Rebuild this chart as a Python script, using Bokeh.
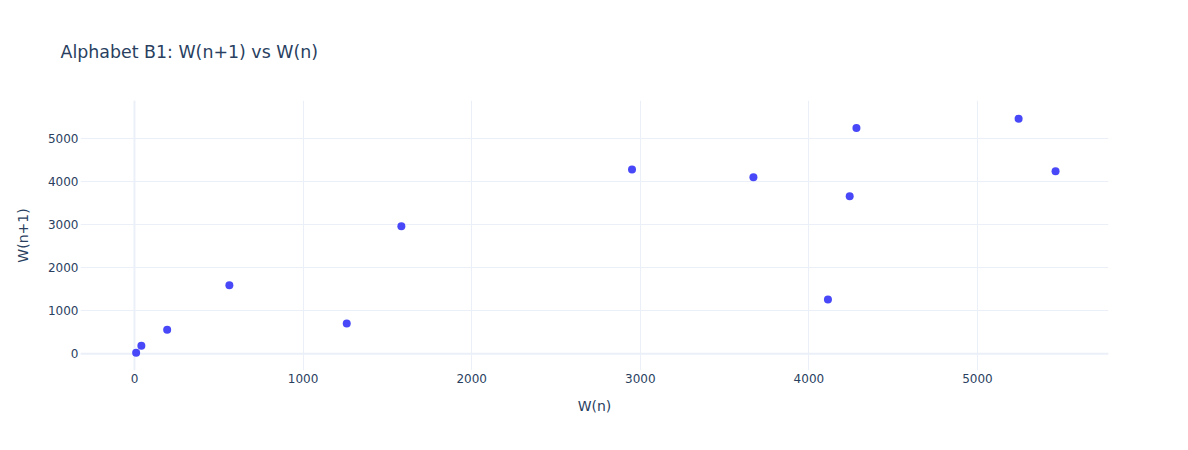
from bokeh.plotting import figure
from bokeh.models import ColumnDataSource, FixedTicker, Range1d, Span
from bokeh.embed import file_html
from bokeh.resources import INLINE

# W(n) sequence; x = W(n), y = W(n+1)
w_n = [10, 41, 194, 563, 1583, 2951, 4282, 5244, 5463, 4242, 3671, 4113, 1259]
w_n1 = [23, 186, 558, 1588, 2960, 4275, 5239, 5455, 4236, 3657, 4097, 1258, 705]

x_ticks = [0, 1000, 2000, 3000, 4000, 5000]
y_ticks = [0, 1000, 2000, 3000, 4000, 5000]

TEXT = "#2a3f5f"
GRID = "#ebf0f8"
FONT = "DejaVu Sans"

src = ColumnDataSource(data=dict(x=w_n, y=w_n1))

p = figure(width=1172, height=434, output_backend="svg", toolbar_location=None,
           x_range=Range1d(-320, 5777), y_range=Range1d(-387, 5877),
           min_border_left=80, min_border_right=64, min_border_top=100, min_border_bottom=64,
           title="Alphabet B1: W(n+1) vs W(n)")

p.background_fill_color = "white"
p.border_fill_color = "white"
p.outline_line_color = None

p.title.text_font = FONT
p.title.text_font_size = "17.4px"
p.title.text_font_style = "normal"
p.title.text_color = TEXT
p.title.align = "left"
p.title.offset = -20
p.title.standoff = 77

for ax in (p.xaxis[0], p.yaxis[0]):
    ax.axis_line_color = None
    ax.major_tick_line_color = None
    ax.minor_tick_line_color = None
    ax.major_tick_in = 0
    ax.major_tick_out = 0
    ax.minor_tick_in = 0
    ax.minor_tick_out = 0
    ax.major_label_text_font = FONT
    ax.major_label_text_font_size = "12px"
    ax.major_label_text_color = TEXT
    ax.axis_label_text_font = FONT
    ax.axis_label_text_font_size = "14px"
    ax.axis_label_text_font_style = "normal"
    ax.axis_label_text_color = TEXT

p.xaxis.ticker = FixedTicker(ticks=x_ticks)
p.yaxis.ticker = FixedTicker(ticks=y_ticks)
p.xaxis.axis_label = "W(n)"
p.yaxis.axis_label = "W(n+1)"
p.xaxis.major_label_standoff = 3
p.xaxis.axis_label_standoff = 12
p.yaxis.major_label_standoff = 2
p.yaxis.axis_label_standoff = 14

p.xgrid.grid_line_color = GRID
p.ygrid.grid_line_color = GRID
p.xgrid.grid_line_width = 1
p.ygrid.grid_line_width = 1

p.add_layout(Span(location=0, dimension="height", line_color=GRID, line_width=2, level="underlay"))
p.add_layout(Span(location=0, dimension="width", line_color=GRID, line_width=2, level="underlay"))

p.scatter("x", "y", source=src, size=8, fill_color="#4848f8", line_color=None)

open("out.html", "w").write(file_html(p, INLINE))
